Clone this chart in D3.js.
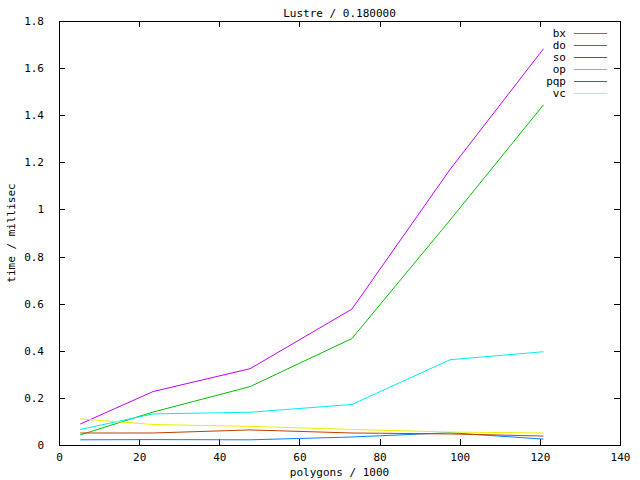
<!DOCTYPE html>
<html>
<head>
<meta charset="utf-8">
<script src="https://cdn.jsdelivr.net/npm/d3@7"></script>
<style>
body { margin: 0; background: #fff; }
text { font-family: "DejaVu Sans Mono", monospace; font-size: 11px; fill: #000; }
</style>
</head>
<body>
<svg id="chart" width="640" height="480"></svg>
<script>
// polygon counts (thousands) and timings per method
var polygons = [5.3, 23.5, 47.7, 73.1, 97.6, 120.9];
var bx  = [0.043, 0.140, 0.248, 0.452, 0.955, 1.444];
var dO  = [0.022, 0.023, 0.022, 0.034, 0.052, 0.025];
var so  = [0.089, 0.227, 0.324, 0.577, 1.170, 1.682];
var op  = [0.066, 0.132, 0.139, 0.172, 0.362, 0.396];
var pqp = [0.051, 0.051, 0.064, 0.051, 0.047, 0.038];
var vc  = [0.111, 0.087, 0.079, 0.066, 0.055, 0.051];

var names  = ["bx", "do", "so", "op", "pqp", "vc"];
var series = [bx, dO, so, op, pqp, vc];
var colors = ["#00c000", "#0080ff", "#c000ff", "#00eeee", "#c04000", "#eeee00"];

var xTicks = [0, 20, 40, 60, 80, 100, 120, 140];
var yTicks = [0, 0.2, 0.4, 0.6, 0.8, 1, 1.2, 1.4, 1.6, 1.8];

var L = 59, R = 620, T = 21, B = 445;
var svg = d3.select("#chart");

var x = d3.scaleLinear().domain([0, 140]).range([L, R]);
var y = d3.scaleLinear().domain([0, 1.8]).range([B, T]);

// axes: ticks point inward, mirrored on top/right
function tickFmt(d) { return d3.format("")(d); }
svg.append("g").attr("transform", "translate(0," + B + ")")
	.call(d3.axisBottom(x).tickValues(xTicks).tickSizeInner(-6).tickSizeOuter(0).tickPadding(8).tickFormat(tickFmt));
svg.append("g").attr("transform", "translate(0," + T + ")")
	.call(d3.axisTop(x).tickValues(xTicks).tickSizeInner(-6).tickSizeOuter(0).tickFormat(""));
svg.append("g").attr("transform", "translate(" + L + ",0)")
	.call(d3.axisLeft(y).tickValues(yTicks).tickSizeInner(-6).tickSizeOuter(0).tickPadding(15).tickFormat(tickFmt));
svg.append("g").attr("transform", "translate(" + R + ",0)")
	.call(d3.axisRight(y).tickValues(yTicks).tickSizeInner(-6).tickSizeOuter(0).tickFormat(""));

svg.selectAll(".domain").remove();
svg.selectAll(".tick line").attr("stroke", "#000").attr("shape-rendering", "crispEdges");
svg.selectAll(".tick text").style("font-family", "DejaVu Sans Mono").style("font-size", "11px").attr("fill", "#000");

svg.append("rect")
	.attr("x", L + 0.5).attr("y", T + 0.5)
	.attr("width", R - L).attr("height", B - T)
	.attr("fill", "none").attr("stroke", "#000")
	.attr("shape-rendering", "crispEdges");

// data lines
var line = d3.line().x((d, i) => x(polygons[i])).y(d => y(d));
svg.selectAll("path.series").data(series).enter()
	.append("path")
	.attr("class", "series")
	.attr("d", line)
	.attr("fill", "none")
	.attr("stroke", (d, i) => colors[i])
	.attr("stroke-width", 1);

// legend
var leg = svg.append("g");
names.forEach(function (n, i) {
	var ly = 33 + i * 12;
	leg.append("text").attr("x", 566).attr("y", ly + 4).attr("text-anchor", "end").text(n);
	leg.append("rect").attr("x", 574).attr("y", ly).attr("width", 33).attr("height", 1)
		.style("fill", colors[i]);
});

// titles
svg.append("text").attr("x", (L + R) / 2).attr("y", 17).attr("text-anchor", "middle").text("Lustre / 0.180000");
svg.append("text").attr("x", (L + R) / 2).attr("y", 476).attr("text-anchor", "middle").text("polygons / 1000");
svg.append("text").attr("transform", "translate(15," + ((T + B) / 2) + ") rotate(-90)")
	.attr("text-anchor", "middle").text("time / millisec");
</script>
</body>
</html>
